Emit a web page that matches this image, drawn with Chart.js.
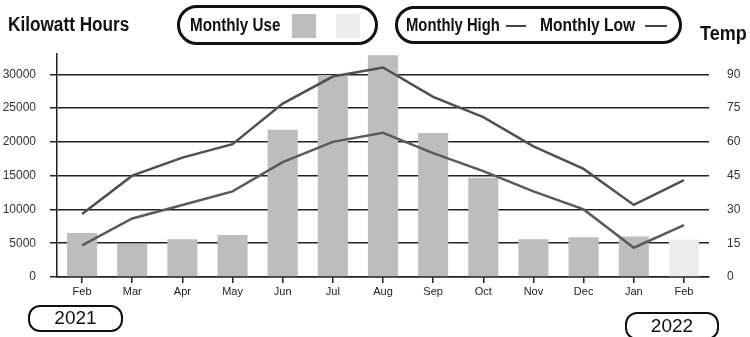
<!DOCTYPE html>
<html>
<head>
<meta charset="utf-8">
<script src="https://cdn.jsdelivr.net/npm/chart.js@4/dist/chart.umd.min.js"></script>
<style>
  html, body { margin: 0; padding: 0; background: #fff; }
  #wrap { position: relative; width: 750px; height: 337px; overflow: hidden; font-family: "Liberation Sans", Arial, sans-serif; color: #111; }
  #c { position: absolute; left: 0; top: 0; }
  .bold { font-weight: bold; position: absolute; white-space: nowrap; transform-origin: 0 50%; }
  .box { position: absolute; border: 3px solid #111; border-radius: 20px; box-sizing: border-box; }
  .sw { position: absolute; width: 24px; height: 24px; }
  .dash { position: absolute; height: 2px; background: #444; }
  .pill { position: absolute; border: 2.5px solid #111; border-radius: 12px; box-sizing: border-box; font-size: 19px; text-align: center; }
</style>
</head>
<body>
<div id="wrap">
  <canvas id="c" width="750" height="337"></canvas>
  <div class="bold" style="left:8px; top:13px; font-size:20px; transform:scaleX(0.86);">Kilowatt Hours</div>
  <div class="box" style="left:177px; top:5px; width:201px; height:40px;"></div>
  <div class="bold" style="left:190px; top:14px; font-size:19px; transform:scaleX(0.8);">Monthly Use</div>
  <div class="sw" style="left:292px; top:14px; background:#bdbdbd;"></div>
  <div class="sw" style="left:336px; top:14px; background:#ececec;"></div>
  <div class="box" style="left:395px; top:6px; width:287px; height:38px;"></div>
  <div class="bold" style="left:406px; top:14px; font-size:19px; transform:scaleX(0.78);">Monthly High</div>
  <div class="dash" style="left:506px; top:25px; width:20px;"></div>
  <div class="bold" style="left:540px; top:14px; font-size:19px; transform:scaleX(0.82);">Monthly Low</div>
  <div class="dash" style="left:645px; top:25px; width:22px;"></div>
  <div class="bold" style="left:700px; top:22px; font-size:20px; transform:scaleX(0.9);">Temp</div>
  <div class="pill" style="left:28px; top:305px; width:95px; height:27px; line-height:22px;">2021</div>
  <div class="pill" style="left:625px; top:312px; width:94px; height:28px; line-height:23px;">2022</div>
</div>
<script>
// Months from Feb 2021 through Feb 2022
const months = ['Feb', 'Mar', 'Apr', 'May', 'Jun', 'Jul', 'Aug', 'Sep', 'Oct', 'Nov', 'Dec', 'Jan', 'Feb'];
// Electricity use per month, kWh
const monthlyUse = [6500, 4900, 5600, 6200, 21800, 29900, 32800, 21300, 14700, 5600, 5900, 6000, 5500];
// Temperatures, °F
const monthlyHigh = [28, 45, 53, 59, 77, 89, 93, 80, 71, 58, 48, 32, 43];
const monthlyLow = [14, 26, 32, 38, 51, 60, 64, 55, 47, 38, 30, 13, 23];
// Left and right axis tick values
const kwhTicks = [0, 5000, 10000, 15000, 20000, 25000, 30000];
const tempTicks = [0, 15, 30, 45, 60, 75, 90];

// The last month is shown in a lighter shade
const barColors = monthlyUse.map((v, i) => i === monthlyUse.length - 1 ? '#ececec' : '#bdbdbd');

const tickFont = { family: 'Liberation Sans, Arial, sans-serif', size: 12 };

new Chart(document.getElementById('c'), {
  data: {
    labels: months,
    datasets: [
      {
        type: 'line', label: 'Monthly High', data: monthlyHigh, yAxisID: 'temp',
        borderColor: '#505050', borderWidth: 2.5, pointRadius: 0, tension: 0, order: 0
      },
      {
        type: 'line', label: 'Monthly Low', data: monthlyLow, yAxisID: 'temp',
        borderColor: '#5a5a5a', borderWidth: 2.5, pointRadius: 0, tension: 0, order: 1
      },
      {
        type: 'bar', label: 'Monthly Use', data: monthlyUse, yAxisID: 'kwh',
        backgroundColor: barColors, categoryPercentage: 1, barPercentage: 0.6, order: 2
      }
    ]
  },
  options: {
    responsive: false,
    animation: false,
    layout: { padding: { top: 54, bottom: 0, left: 0, right: 0 } },
    plugins: { legend: { display: false }, tooltip: { enabled: false } },
    scales: {
      x: {
        offset: true,
        grid: { display: true, offset: false, drawOnChartArea: false, tickLength: 6, color: '#222', lineWidth: 1.5 },
        border: { display: true, color: '#222', width: 1.5 },
        ticks: { color: '#222', font: { ...tickFont, size: 11 }, padding: 2, maxRotation: 0, autoSkip: false },
        afterFit: s => { s.height = 60; }
      },
      kwh: {
        position: 'left', min: 0, max: 33000,
        afterBuildTicks: s => { s.ticks = kwhTicks.map(v => ({ value: v })); },
        grid: { color: '#222', lineWidth: 1.5, tickLength: 7 },
        border: { display: true, color: '#222', width: 1.5 },
        ticks: { color: '#333', font: tickFont, padding: 14, callback: v => String(v) },
        afterFit: s => { s.width = 57; }
      },
      temp: {
        position: 'right', min: 0, max: 99,
        afterBuildTicks: s => { s.ticks = tempTicks.map(v => ({ value: v })); },
        grid: { display: false, drawOnChartArea: false },
        border: { display: false },
        ticks: { color: '#333', font: tickFont, padding: 10, callback: v => String(v) },
        afterFit: s => { s.width = 41; }
      }
    }
  }
});
</script>
</body>
</html>
